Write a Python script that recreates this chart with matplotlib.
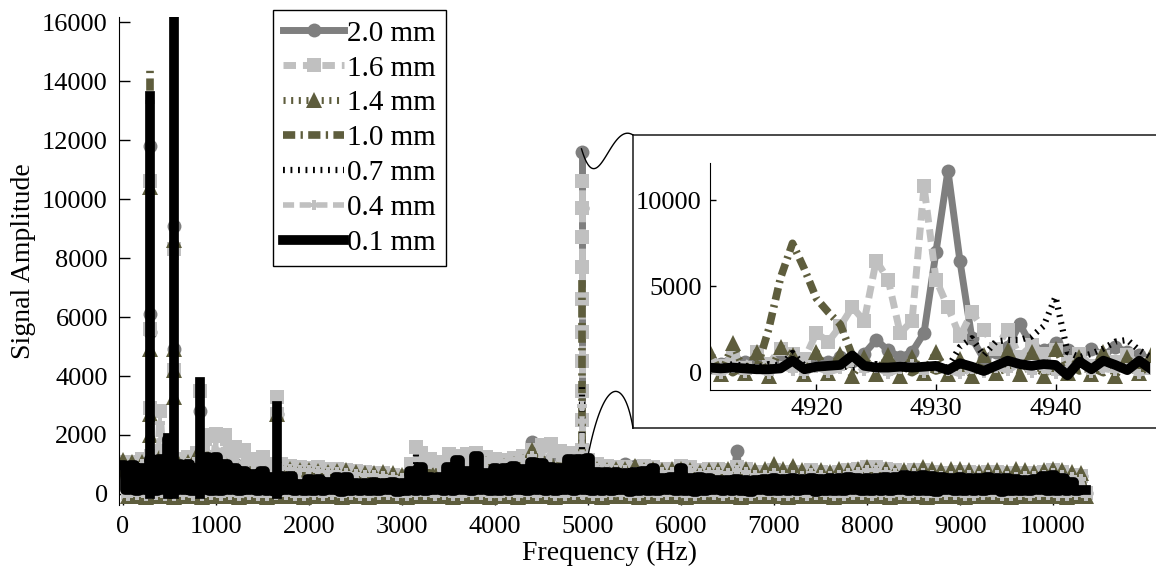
import numpy as np
import matplotlib
matplotlib.use("Agg")
import matplotlib.pyplot as plt
from matplotlib.lines import Line2D

plt.rcParams['font.family'] = ['Liberation Serif', 'DejaVu Serif']

LABELS = ['2.0 mm', '1.6 mm', '1.4 mm', '1.0 mm', '0.7 mm', '0.4 mm', '0.1 mm']

# ---- main spectrum: each trace jumps between a peak (on the 100 Hz grid)
# and a trough (half way between grid points)
freq_hz = np.arange(0, 10301, 100)

top_20 = [800, 820, 850, 900, 1000, 900, 800, 850, 900, 1000,
          1100, 1050, 1000, 900, 800, 750, 700, 700, 700, 680,
          650, 650, 650, 620, 600, 580, 550, 520, 500, 480,
          450, 700, 900, 850, 800, 850, 900, 950, 1000, 950,
          900, 920, 950, 1000, 1760, 1100, 1200, 1100, 1000, 1000,
          1000, 900, 800, 850, 1000, 950, 800, 780, 750, 780,
          800, 750, 700, 720, 750, 800, 1450, 800, 700, 720,
          750, 720, 700, 680, 650, 680, 700, 720, 750, 720,
          700, 720, 750, 720, 700, 700, 700, 680, 650, 680,
          700, 680, 650, 680, 700, 680, 650, 650, 650, 680,
          700, 680, 650, 600]
low_20 = [30, 50, 20, 40, 30, 60, 20, 40, 50, 30,
          40, 20, 50, 30, 40, 60, 30, 20, 40, 50,
          30, 40, 20, 50, 30, 40, 60, 20, 30, 40,
          50, 30, 20, 40, 30, 50, 40, 20, 30, 60,
          40, 30, 50, 20, 40, 30, 50, 40, 20, 30,
          40, 60, 30, 20, 40, 50, 30, 40, 20, 30,
          50, 40, 30, 20, 40, 30, 50, 40, 30, 20,
          40, 50, 30, 40, 20, 30, 50, 40, 30, 20,
          40, 30, 50, 20, 40, 30, 60, 40, 30, 20,
          50, 40, 30, 20, 40, 50, 30, 40, 20, 30,
          40, 50, 30, 40]
top_16 = [1080, 1100, 1180, 1300, 2800, 1500, 1200, 1250, 1400, 2000,
          2050, 2000, 1600, 1500, 1200, 1250, 1000, 1000, 950, 900,
          880, 900, 850, 850, 800, 780, 750, 720, 700, 650,
          600, 1000, 1380, 1200, 1080, 1350, 1300, 1350, 1380, 1250,
          1200, 1150, 1230, 1300, 1480, 1650, 1700, 1450, 1380, 1350,
          1150, 1000, 950, 900, 900, 850, 950, 900, 850, 850,
          950, 900, 800, 850, 850, 800, 900, 850, 750, 750,
          800, 750, 750, 700, 800, 750, 700, 750, 800, 850,
          900, 900, 850, 800, 750, 800, 800, 750, 700, 700,
          750, 750, 700, 750, 750, 700, 650, 700, 700, 750,
          800, 750, 650, 600]
low_16 = [40, 60, 30, 50, 40, 70, 30, 50, 60, 40,
          50, 30, 60, 40, 50, 70, 40, 30, 50, 60,
          40, 50, 30, 60, 40, 50, 70, 30, 40, 50,
          60, 40, 30, 50, 40, 60, 50, 30, 40, 70,
          50, 40, 60, 30, 50, 40, 60, 50, 30, 40,
          50, 70, 40, 30, 50, 60, 40, 50, 30, 40,
          60, 50, 40, 30, 50, 40, 60, 50, 40, 30,
          50, 60, 40, 50, 30, 40, 60, 50, 40, 30,
          50, 40, 60, 30, 50, 40, 70, 50, 40, 30,
          60, 50, 40, 30, 50, 60, 40, 50, 30, 40,
          50, 60, 40, 50]
top_14 = [1150, 1100, 1100, 1200, 1300, 1100, 1000, 1100, 1350, 1300,
          1200, 1100, 1000, 900, 850, 850, 800, 850, 850, 800,
          800, 780, 750, 780, 800, 750, 700, 720, 750, 700,
          650, 800, 900, 850, 850, 950, 1000, 1000, 1050, 1000,
          950, 950, 1000, 1100, 1500, 1200, 1100, 1050, 1050, 1000,
          1000, 850, 800, 850, 850, 950, 800, 850, 800, 850,
          850, 800, 750, 800, 800, 850, 800, 850, 800, 850,
          1000, 850, 950, 800, 750, 800, 750, 850, 800, 850,
          900, 800, 850, 750, 800, 800, 900, 850, 800, 850,
          850, 800, 750, 800, 800, 750, 850, 800, 750, 800,
          850, 800, 750, 700]
low_14 = [-80, -60, -90, -70, -80, -100, -60, -80, -90, -70,
          -80, -60, -90, -70, -80, -100, -70, -60, -80, -90,
          -70, -80, -60, -90, -70, -80, -100, -60, -70, -80,
          -90, -70, -60, -80, -70, -90, -80, -60, -70, -100,
          -80, -70, -90, -60, -80, -70, -90, -80, -60, -70,
          -80, -100, -70, -60, -80, -90, -70, -80, -60, -70,
          -90, -80, -70, -60, -80, -70, -90, -80, -70, -60,
          -80, -90, -70, -80, -60, -70, -90, -80, -70, -60,
          -80, -70, -90, -60, -80, -70, -100, -80, -70, -60,
          -90, -80, -70, -60, -80, -90, -70, -80, -60, -70,
          -80, -90, -70, -80]
top_10 = [800, 820, 850, 900, 1000, 900, 800, 850, 1000, 1100,
          1000, 950, 900, 850, 750, 750, 650, 700, 700, 680,
          650, 620, 600, 620, 650, 600, 550, 580, 600, 550,
          500, 650, 800, 750, 700, 780, 850, 880, 900, 850,
          800, 820, 850, 900, 1000, 950, 900, 880, 900, 850,
          850, 750, 700, 720, 750, 700, 800, 750, 700, 720,
          700, 680, 650, 700, 750, 700, 650, 700, 700, 680,
          700, 680, 650, 700, 750, 720, 700, 680, 750, 700,
          700, 720, 750, 720, 700, 680, 700, 720, 750, 700,
          700, 680, 650, 680, 700, 700, 650, 700, 700, 720,
          750, 700, 650, 600]
low_10 = [-50, -30, -60, -40, -50, -70, -30, -50, -60, -40,
          -50, -30, -60, -40, -50, -70, -40, -30, -50, -60,
          -40, -50, -30, -60, -40, -50, -70, -30, -40, -50,
          -60, -40, -30, -50, -40, -60, -50, -30, -40, -70,
          -50, -40, -60, -30, -50, -40, -60, -50, -30, -40,
          -50, -70, -40, -30, -50, -60, -40, -50, -30, -40,
          -60, -50, -40, -30, -50, -40, -60, -50, -40, -30,
          -50, -60, -40, -50, -30, -40, -60, -50, -40, -30,
          -50, -40, -60, -30, -50, -40, -70, -50, -40, -30,
          -60, -50, -40, -30, -50, -60, -40, -50, -30, -40,
          -50, -60, -40, -50]
top_07 = [850, 900, 800, 1000, 1100, 950, 1000, 900, 800, 1100,
          1150, 900, 800, 700, 600, 650, 550, 600, 550, 350,
          500, 480, 400, 500, 500, 380, 350, 380, 360, 380,
          350, 700, 800, 550, 500, 800, 1000, 700, 1100, 650,
          800, 780, 850, 800, 1000, 950, 850, 800, 1000, 1000,
          1000, 650, 600, 650, 600, 600, 650, 700, 450, 450,
          700, 450, 450, 450, 420, 400, 420, 400, 420, 430,
          450, 430, 450, 440, 450, 430, 450, 460, 470, 460,
          470, 460, 480, 500, 540, 520, 540, 520, 480, 460,
          470, 460, 450, 470, 460, 460, 420, 400, 420, 500,
          520, 460, 420, 380]
low_07 = [110, 90, 120, 100, 130, 110, 90, 120, 100, 110,
          120, 90, 110, 100, 130, 110, 100, 90, 120, 110,
          100, 120, 90, 110, 100, 130, 110, 90, 100, 120,
          110, 100, 90, 120, 100, 110, 130, 90, 100, 120,
          110, 100, 120, 90, 110, 100, 120, 110, 90, 100,
          110, 130, 100, 90, 110, 120, 100, 110, 90, 100,
          120, 110, 100, 90, 110, 100, 120, 110, 100, 90,
          110, 120, 100, 110, 90, 100, 120, 110, 100, 90,
          110, 100, 120, 90, 110, 100, 130, 110, 100, 90,
          120, 110, 100, 90, 110, 120, 100, 110, 90, 100,
          110, 120, 100, 110]
top_04 = [900, 950, 1000, 1100, 2400, 1300, 1000, 1050, 1200, 1700,
          1800, 1700, 1400, 1300, 1000, 1050, 900, 880, 850, 820,
          800, 780, 750, 760, 700, 680, 650, 640, 600, 580,
          550, 900, 1200, 1050, 950, 1150, 1150, 1200, 1250, 1100,
          1050, 1000, 1100, 1150, 1300, 1450, 1550, 1300, 1200, 1150,
          1000, 880, 850, 800, 800, 750, 850, 800, 750, 750,
          850, 800, 700, 750, 750, 700, 800, 750, 650, 650,
          700, 650, 650, 620, 700, 650, 620, 650, 700, 750,
          800, 800, 750, 700, 650, 700, 700, 650, 620, 620,
          650, 650, 620, 650, 650, 620, 580, 620, 620, 650,
          700, 650, 580, 520]
low_04 = [-60, -40, -70, -50, -60, -80, -40, -60, -70, -50,
          -60, -40, -70, -50, -60, -80, -50, -40, -60, -70,
          -50, -60, -40, -70, -50, -60, -80, -40, -50, -60,
          -70, -50, -40, -60, -50, -70, -60, -40, -50, -80,
          -60, -50, -70, -40, -60, -50, -70, -60, -40, -50,
          -60, -80, -50, -40, -60, -70, -50, -60, -40, -50,
          -70, -60, -50, -40, -60, -50, -70, -60, -50, -40,
          -60, -70, -50, -60, -40, -50, -70, -60, -50, -40,
          -60, -50, -70, -40, -60, -50, -80, -60, -50, -40,
          -70, -60, -50, -40, -60, -70, -50, -60, -40, -50,
          -60, -70, -50, -60]
top_01 = [970, 970, 870, 1170, 1170, 1870, 1020, 1020, 870, 1270,
          1270, 1020, 870, 770, 680, 770, 570, 620, 620, 340,
          510, 510, 410, 570, 570, 370, 370, 390, 370, 390,
          370, 770, 920, 570, 570, 920, 1160, 770, 1290, 720,
          890, 870, 950, 860, 1090, 1060, 920, 890, 1190, 1170,
          1220, 740, 740, 760, 720, 740, 790, 870, 550, 560,
          870, 550, 560, 540, 490, 480, 500, 480, 490, 520,
          540, 510, 530, 520, 540, 510, 530, 540, 560, 540,
          550, 540, 560, 590, 630, 620, 640, 620, 560, 540,
          560, 550, 540, 560, 540, 550, 500, 480, 500, 620,
          640, 550, 400, 150]
low_01 = [120, 90, 150, 110, 130, 100, 140, 90, 120, 110,
          100, 130, 90, 120, 100, 110, 80, 120, 90, 100,
          110, 90, 120, 80, 100, 110, 90, 100, 120, 80,
          110, 100, 90, 120, 100, 110, 130, 90, 120, 100,
          110, 90, 120, 100, 130, 110, 90, 120, 100, 140,
          110, 90, 100, 120, 80, 110, 100, 90, 120, 100,
          110, 80, 100, 120, 90, 110, 100, 80, 120, 100,
          90, 110, 100, 120, 80, 100, 110, 90, 120, 100,
          110, 90, 100, 120, 110, 90, 100, 80, 120, 100,
          110, 90, 100, 120, 80, 110, 100, 90, 120, 100,
          110, 90, 100, 120]

# narrow harmonic peaks: (frequency, values up the spike)
spk_20 = [(290, [0, 5500, 6100, 11800]), (550, [0, 4900, 9100]), (830, [0, 2800]),
          (1660, [0, 2700]), (4930, [0, 9700, 11600])]
spk_16 = [(290, [0, 2900, 5600, 10600]), (550, [0, 4200, 8300]), (830, [0, 3500]),
          (1660, [0, 2700, 3300]), (3150, [0, 1600]),
          (4930, [0, 1500, 2500, 3500, 4500, 5500, 6600, 7700, 8700, 9700, 10600])]
spk_14 = [(290, [0, 2000, 2700, 4900, 10400]), (550, [0, 3300, 4200, 4900, 8600]), (1660, [0, 2700])]
spk_10 = [(290, [0, 13700, 14400]), (550, [0, 4000]), (830, [0, 4000]), (1660, [0, 2800]),
          (4930, [0, 4400, 7300])]
spk_07 = [(290, [0, 13000]), (1660, [0, 3250]), (3150, [0, 1500]), (4930, [0, 3800])]
spk_04 = [(290, [0, 13300]), (550, [0, 8000]), (1660, [0, 2600]), (4930, [0, 3000])]
spk_01 = [(290, [0, 13500]), (480, [0, 1900]), (550, [0, 16500]), (830, [0, 3800]), (1660, [0, 3000])]

# ---- zoomed window around 4930 Hz, 1 Hz bins
inset_hz = np.arange(4911, 4949)
ins_20 = [800, 500, 900, 600, 700, 500, 800, 600, 500, 700, 600, 900, 700, 1100, 1900, 1300, 900, 1200, 2300,
          7000, 11700, 6500, 2000, 800, 1200, 1500, 2800, 1600, 1300, 1700, 1300, 900, 1400, 1000, 1500, 1200,
          1000, 800]
ins_16 = [700, 400, 900, 300, 1200, 500, 1400, 1100, 800, 2300, 1800, 2700, 3800, 3000, 6500, 5400, 2300, 3000,
          10800, 5400, 3800, 2100, 3500, 2500, 1400, 2500, 900, 1600, 1100, 1300, 600, 1100, 400, 900, 600, 1000,
          500, 300]
ins_14 = [1300, -100, 1700, 0, 1200, -200, 1500, 1000, -100, 1200, 0, 1100, -200, 900, -100, 1000, -200, 900,
          0, 1200, -100, 800, -200, 1000, 0, 1300, -100, 1200, -200, 1400, 0, 900, -100, 1200, -200, 900, 0, 1000]
ins_10 = [200, 500, 0, 400, 200, 2500, 5500, 7500, 6000, 4300, 3500, 2800, 1000, 300, 500, 200, 300, 0, 400, 100,
          300, 0, 500, 200, 0, 300, 100, 400, 0, 200, 500, 100, 300, 0, 400, 200, 100, 300]
ins_07 = [400, 300, 500, 400, 300, 500, 400, 1150, 400, 300, 500, 400, 300, 400, 500, 300, 400, 500, 300, 400,
          300, 1500, 2000, 1000, 1800, 1900, 1900, 2100, 2700, 4400, 1200, 900, 1100, 1400, 1800, 1900, 1300, 900]
ins_04 = [200, -100, 300, 0, 200, -100, 400, 100, -50, 300, 0, 200, 600, 100, 300, -100, 200, 500, 0, 300, 100,
          -100, 200, 0, 300, 100, 500, 0, 200, -100, 300, 600, 0, 200, 100, 300, -100, 200]
ins_01 = [300, 250, 300, 250, 200, 200, 250, 700, 200, 350, 400, 450, 1000, 400, 300, 300, 350, 300, 350, 400,
          150, 550, 350, 100, 400, 700, 500, 400, 500, 450, -150, 650, 200, 700, 450, 150, 700, 200]

DGRAY, LGRAY, OLIVE = '#7f7f7f', '#c0c0c0', '#5e5d3d'
styles = {
    '2.0 mm': dict(color=DGRAY, lw=5, ls='-', marker='o', ms=10),
    '1.6 mm': dict(color=LGRAY, lw=5, ls=(0, (1.8, 1.0)), marker='s', ms=10),
    '1.4 mm': dict(color=OLIVE, lw=5, ls=(0, (0.3, 0.8)), marker='^', ms=11),
    '1.0 mm': dict(color=OLIVE, lw=5.5, ls=(0, (1.6, 0.7, 0.3, 0.7))),
    '0.7 mm': dict(color='black', lw=4.5, ls=(0, (0.3, 0.9))),
    '0.4 mm': dict(color=LGRAY, lw=4, ls=(0, (2, 1)), marker='P', ms=7),
    '0.1 mm': dict(color='black', lw=7, ls='-'),
}

W, H = 1156, 570
fig = plt.figure(figsize=(W / 100, H / 100), dpi=100)
ax = fig.add_axes([119 / W, 65 / H, 981 / W, 488 / H])

x_main = np.column_stack((freq_hz, freq_hz + 50)).ravel()
main_data = {
    '2.0 mm': (top_20, low_20, spk_20), '1.6 mm': (top_16, low_16, spk_16),
    '1.4 mm': (top_14, low_14, spk_14), '1.0 mm': (top_10, low_10, spk_10),
    '0.7 mm': (top_07, low_07, spk_07), '0.4 mm': (top_04, low_04, spk_04),
    '0.1 mm': (top_01, low_01, spk_01),
}
handles = []
for name in LABELS:
    top, low, spikes = main_data[name]
    st = styles[name]
    y = np.column_stack((top, low)).ravel()
    # the densest trace reads as a solid band
    ds = 'steps-mid' if name == '0.1 mm' else 'default'
    h, = ax.plot(x_main, y, label=name, mew=0, drawstyle=ds, **st)
    handles.append(h)
    for f, vals in spikes:
        ax.plot([f] * len(vals), vals, mew=0, **st)

ax.set_xlim(-43, 10505)
ax.set_ylim(-373, 16170)
ax.set_xticks(np.arange(0, 10001, 1000))
ax.set_yticks(np.arange(0, 16001, 2000))
ax.tick_params(axis='y', direction='in', length=8, width=1, labelsize=19, pad=8)
ax.tick_params(axis='x', direction='in', length=4, width=1, labelsize=19, pad=8)
for s in ['top', 'right', 'bottom']:
    ax.spines[s].set_visible(False)
ax.set_xlabel('Frequency (Hz)', fontsize=20, labelpad=2)
ax.set_ylabel('Signal Amplitude', fontsize=20, labelpad=4)

leg = ax.legend(handles=handles, loc='upper left', bbox_to_anchor=(273 / W, 1 - 10 / H),
                bbox_transform=fig.transFigure, borderaxespad=0, fontsize=21, frameon=True,
                fancybox=False, handlelength=2.1, handletextpad=0.1, labelspacing=0.29,
                borderpad=0.35, framealpha=1, numpoints=1)
leg.get_frame().set_edgecolor('black')
leg.get_frame().set_linewidth(1)

# ---- frame and zoomed axes
frame = fig.add_axes([633 / W, 142 / H, 600 / W, 293 / H])
frame.set_xticks([])
frame.set_yticks([])
frame.spines['right'].set_visible(False)
for s in ['top', 'left', 'bottom']:
    frame.spines[s].set_color('#3a3a3a')
    frame.spines[s].set_linewidth(1.3)

ins = fig.add_axes([710 / W, 180 / H, 440 / W, 227 / H])
ins_data = {'2.0 mm': ins_20, '1.6 mm': ins_16, '1.4 mm': ins_14, '1.0 mm': ins_10,
            '0.7 mm': ins_07, '0.4 mm': ins_04, '0.1 mm': ins_01}
for name in LABELS:
    ins.plot(inset_hz, ins_data[name], mew=0, **styles[name])
ins.set_xlim(4911.1, 4947.9)
ins.set_ylim(-1000, 12150)
ins.set_xticks([4920, 4930, 4940])
ins.set_yticks([0, 5000, 10000])
ins.tick_params(direction='in', length=4, width=1, labelsize=19, pad=6)
for s in ['top', 'right']:
    ins.spines[s].set_visible(False)
ins.patch.set_alpha(0)

# ---- curved connectors from the main peak to the frame corners
def to_img(disp):
    return np.array([disp[0], H - disp[1]])

def bezier(p0, p1, p2, p3, n=60):
    t = np.linspace(0, 1, n)[:, None]
    return ((1 - t) ** 3) * p0 + 3 * ((1 - t) ** 2) * t * p1 + 3 * (1 - t) * t ** 2 * p2 + t ** 3 * p3

fig.canvas.draw()
top0 = to_img(ax.transData.transform((4930, 11700)))
top3 = to_img(frame.transAxes.transform((0, 1)))
bot0 = to_img(ax.transData.transform((5000, 1300)))
bot3 = to_img(frame.transAxes.transform((0, 0)))
curves = [bezier(top0, top0 + [17, 57], top3 + [-23, -15], top3),
          bezier(bot0, bot0 + [16, -80], bot3 + [-9, -53], bot3)]
for c in curves:
    fig.add_artist(Line2D(c[:, 0] / W, 1 - c[:, 1] / H, transform=fig.transFigure,
                          color='black', lw=1))

fig.savefig('out.png', dpi=100)
